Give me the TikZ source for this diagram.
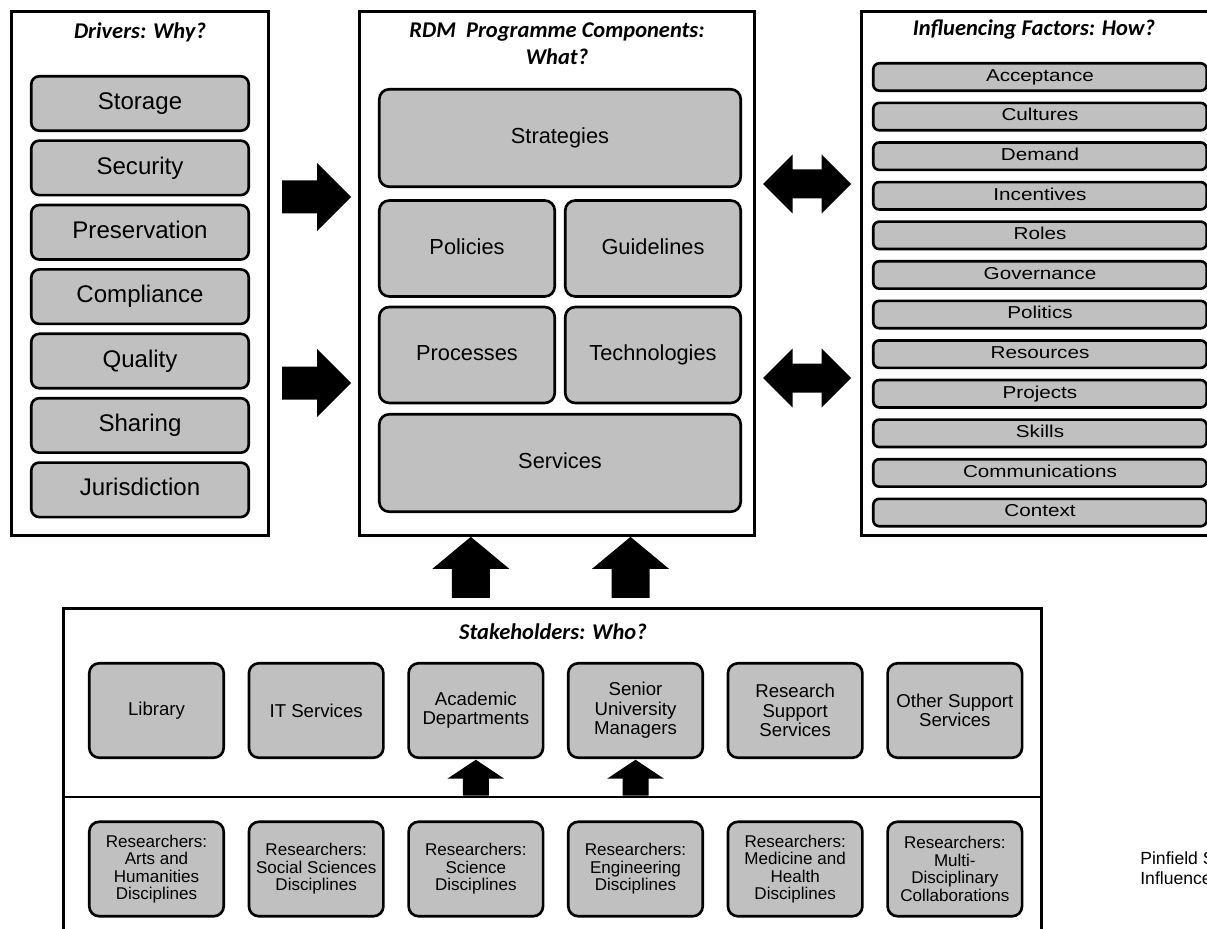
\documentclass[tikz,border=0pt]{standalone}
\usepackage{fontspec}
\setmainfont{Liberation Sans}
\newfontfamily\titlefont{Carlito}
\newfontfamily\widefont[FakeStretch=1.2]{Liberation Sans}
\usepackage{xcolor}
\usetikzlibrary{positioning}
\definecolor{boxgray}{HTML}{C0C0C0}

\begin{document}
\begin{tikzpicture}[x=0.02cm, y=-0.02cm,
    panel/.style={draw, line width=1.6pt, minimum height=10.48cm, inner sep=0pt},
    paneltitle/.style={font=\titlefont\bfseries\itshape\fontsize{12.8}{15.3}\selectfont, align=center},
    graybox/.style={draw, fill=boxgray, line width=1.5pt, outer sep=0pt, inner sep=1pt, align=center},
    drvbox/.style={graybox, rounded corners=0.16cm, minimum width=4.35cm, minimum height=1.09cm, text height=9.9pt, text depth=2.9pt, font=\fontsize{13.7}{16}\selectfont},
    compbox/.style={graybox, rounded corners=0.2cm, minimum width=3.51cm, minimum height=1.92cm, text height=8.9pt, text depth=2.6pt, font=\fontsize{12.4}{15}\selectfont},
    infbox/.style={graybox, rounded corners=0.12cm, minimum width=6.67cm, minimum height=0.548cm, text height=7pt, text depth=2.1pt, font=\widefont\fontsize{9.8}{12}\selectfont},
    stkbox/.style={graybox, rounded corners=0.2cm, minimum width=2.69cm, minimum height=1.89cm, font=\fontsize{10.6}{11}\selectfont},
    resbox/.style={stkbox, font=\fontsize{9.7}{10}\selectfont},
    fatright/.pic={\fill (-34,-16.5) -- (1,-16.5) -- (1,-34) -- (35,0) -- (1,34) -- (1,16.5) -- (-34,16.5) -- cycle;},
    fatboth/.pic={\fill (-44,0) -- (-14.5,-29.5) -- (-14.5,-14.5) -- (14.5,-14.5) -- (14.5,-29.5) -- (44,0) -- (14.5,29.5) -- (14.5,14.5) -- (-14.5,14.5) -- (-14.5,29.5) -- cycle;},
    fatup/.pic={\fill (0,0) -- (38.5,32) -- (19,32) -- (19,61) -- (-19,61) -- (-19,32) -- (-38.5,32) -- cycle;},
    fatupsmall/.pic={\fill (0,0) -- (28.5,19) -- (13,19) -- (13,36) -- (-13,36) -- (-13,19) -- (-28.5,19) -- cycle;}
]
\useasboundingbox (0,0) rectangle (1207,929);

% panels
\node[panel, minimum width=5.14cm] (drv) at (140,273.5) {};
\node[panel, minimum width=7.9cm] (comp) at (557,273.5) {};
\node[panel, minimum width=7.14cm] (inf) at (1040,273.5) {};
\node[panel, minimum width=19.56cm, minimum height=6.72cm] (stk) at (552.5,776.5) {};
\coordinate (split) at (0,797);
\draw[line width=1.6pt] (stk.west |- split) -- (stk.east |- split);

\node[paneltitle] (drvt) at (140,32) {Drivers: Why?};
\node[paneltitle] (compt) at (557,44) {RDM\ \ Programme Components:\\What?};
\node[paneltitle] (inft) at (1034,30) {Influencing Factors: How?};
\node[paneltitle] (stkt) at (553,632) {Stakeholders: Who?};

% drivers
\node[drvbox] (storage) at (140,103.5) {Storage};
\node[drvbox, below=0.198cm of storage] (security) {Security};
\node[drvbox, below=0.198cm of security] (preserv) {Preservation};
\node[drvbox, below=0.198cm of preserv] (compl) {Compliance};
\node[drvbox, below=0.198cm of compl] (quality) {Quality};
\node[drvbox, below=0.198cm of quality] (sharing) {Sharing};
\node[drvbox, below=0.198cm of sharing] (jurisd) {Jurisdiction};

% components
\node[compbox, minimum width=7.23cm, minimum height=1.95cm] (strat) at (560,138) {Strategies};
\node[compbox] (polic) at (467,248.5) {Policies};
\node[compbox] (guide) at (653,248.5) {Guidelines};
\node[compbox] (proc) at (467,355) {Processes};
\node[compbox] (techn) at (653,355) {Technologies};
\node[compbox, minimum width=7.23cm, minimum height=1.95cm] (serv) at (560,463) {Services};

% influencing factors
\node[infbox] (accept) at (1040,77) {Acceptance};
\node[infbox, below=0.244cm of accept] (cult) {Cultures};
\node[infbox, below=0.244cm of cult] (demand) {Demand};
\node[infbox, below=0.244cm of demand] (incent) {Incentives};
\node[infbox, below=0.244cm of incent] (roles) {Roles};
\node[infbox, below=0.244cm of roles] (govern) {Governance};
\node[infbox, below=0.244cm of govern] (polit) {Politics};
\node[infbox, below=0.244cm of polit] (resour) {Resources};
\node[infbox, below=0.244cm of resour] (proj) {Projects};
\node[infbox, below=0.244cm of proj] (skills) {Skills};
\node[infbox, below=0.244cm of skills] (comms) {Communications};
\node[infbox, below=0.244cm of comms] (context) {Context};

% stakeholders
\node[stkbox] (lib) at (156.5,710.5) {Library};
\node[stkbox, right=0.504cm of lib] (its) {IT Services};
\node[stkbox, right=0.504cm of its] (acad) {Academic\\Departments};
\node[stkbox, right=0.504cm of acad] (senior) {Senior\\University\\Managers};
\node[stkbox, right=0.504cm of senior] (ressup) {Research\\Support\\Services};
\node[stkbox, right=0.504cm of ressup] (other) {Other Support\\Services};

\node[resbox] (rarts) at (156.5,869) {Researchers:\\Arts and\\Humanities\\Disciplines};
\node[resbox, right=0.504cm of rarts] (rsoc) {Researchers:\\Social Sciences\\Disciplines};
\node[resbox, right=0.504cm of rsoc] (rsci) {Researchers:\\Science\\Disciplines};
\node[resbox, right=0.504cm of rsci] (reng) {Researchers:\\Engineering\\Disciplines};
\node[resbox, right=0.504cm of reng] (rmed) {Researchers:\\Medicine and\\Health\\Disciplines};
\node[resbox, right=0.504cm of rmed] (rmulti) {Researchers:\\Multi-\\Disciplinary\\Collaborations};

% block arrows
\pic at (316,197) {fatright};
\pic at (316,383) {fatright};
\pic at (807,184) {fatboth};
\pic at (807,378) {fatboth};
\pic at ([xshift=-0.1cm]acad.center |- comp.south) {fatup};
\pic at ([xshift=-0.1cm]senior.center |- comp.south) {fatup};
\pic at ([yshift=-0.04cm]acad.south) {fatupsmall};
\pic at ([yshift=-0.04cm]senior.south) {fatupsmall};

\node[anchor=west, align=left, inner sep=0pt, font=\fontsize{10}{11.3}\selectfont] (cite) at (1140,868) {Pinfield S\\Influence};
\end{tikzpicture}
\end{document}
